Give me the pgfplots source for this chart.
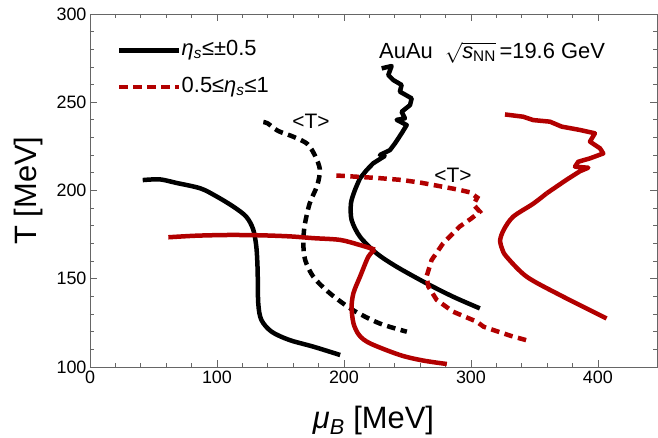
\documentclass[border=0pt]{standalone}
\usepackage{pgfplots}
\pgfplotsset{compat=1.18}
\usepackage{fontspec}
\setmainfont{Liberation Sans}
\definecolor{dred}{RGB}{178,0,0}
\begin{document}
\begin{tikzpicture}
\begin{axis}[
  name=ax,
  scale only axis, width=567bp, height=353bp,
  xmin=0, xmax=446.5, ymin=100, ymax=300,
  xtick={0,100,200,300,400}, ytick={100,150,200,250,300},
  minor x tick num=4, minor y tick num=4,
  tick align=inside,
  major tick length=7bp, minor tick length=4bp,
  axis line style={black!60, line width=0.8bp},
  every tick/.style={black!60, line width=0.8bp},
  ticklabel style={font=\fontsize{18}{18}\selectfont, text=black},
  /pgf/number format/assume math mode=true,
  xlabel={{\itshape μ\textsubscript{B}} [MeV]},
  ylabel={T [MeV]},
  every axis x label/.style={at={(rel axis cs:0.5,0)}, anchor=base, yshift=-61bp, font=\fontsize{31}{31}\selectfont},
  every axis y label/.style={at={([xshift=-53bp]rel axis cs:0,0.5)}, rotate=90, anchor=base, font=\fontsize{31}{31}\selectfont},
  legend style={draw=none, fill=none, at={(axis cs:21.3,284.5)}, anchor=north west,
    font=\fontsize{22}{22}\selectfont, row sep=18.5bp, inner sep=0pt,
    nodes={inner sep=0pt, text height=14bp, text depth=4bp}},
  legend cell align=left,
  legend image code/.code={\draw[#1] (0bp,0bp) -- (60bp,0bp);},
  solidline/.style={line width=4.5bp, line join=round},
  dashline/.style={line width=4.5bp, dash pattern=on 8.5bp off 5.5bp},
]
% black solid, left
\addplot[black, solidline, smooth, tension=0.5, forget plot] coordinates {
(41.5,205.9)(55,206.3)(68,204.3)(87,201.2)(100,196.5)(113,190.8)(123,185.2)(128.5,178)(131,168)(132,155)(132.5,136)(135,126.6)(143,120)(157,115.3)(176,111.5)(197,106.8)};
% black dashed <T>
\addplot[black, dashline, smooth, tension=0.5, forget plot] coordinates {
(136.5,238.8)(140,238)(148,233.8)(160,230.5)(171,226.5)(177,220)(181,212)(179,203)(173,192.7)(169,180)(168,170)(169.5,160.5)(176,151)(189,141.7)(207,132.3)(228,124.7)(249.5,120)};
% black solid, right
\addplot[black, solidline, forget plot] coordinates {
(229.7,269.2)(237.5,270.5)(234.9,265.4)(238.8,262.6)(245.4,259.8)(244,256)(253.3,252.2)(252,248.4)(245.4,244.6)(248,240.9)(241.5,240)(249.4,237.1)(245.4,232.4)(240.2,226.7)(236.2,222.9)(228.3,220.1)(232,219.5)(223,215.4)(217.9,211.6)(212.6,206.9)};
\addplot[black, solidline, smooth, tension=0.5, forget plot] coordinates {
(212.6,206.9)(208.5,200)(205.5,192.7)(206,183.3)(212.6,173.8)(225.7,164.4)(241.5,156.8)(265,147.4)(286,139.8)(307,133.2)};
% red solid, left
\addplot[dred, solidline, smooth, tension=0.5, forget plot] coordinates {
(61.7,173.5)(84,174.4)(110,174.8)(135,174.6)(157.5,174)(176,173)(197,172)(212.6,169.1)(224.4,166.5)};
\addplot[dred, solidline, smooth, tension=0.5, forget plot] coordinates {
(224.4,166.5)(219.2,162.5)(212.6,151.1)(207.5,142)(206,134)(207.5,124.7)(212,118)(220.5,113.4)(244,106.8)(262,103.7)(281,101.7)};
% red dashed <T>
\addplot[dred, dashline, forget plot] coordinates {
(194,208.5)(210,207.8)(228,207)(245,206)(260,204.5)(275,202.5)(290,200.5)(299,199)(305,196)(302,192)(307,188)(300,184)(291,179.5)(278,170)(269,160.6)(265,151.2)(266.5,145.5)(273,138)(286,131.3)(304.5,125.7)(310,122.8)(330.7,117.8)(345,114.9)};
% red solid, right
\addplot[dred, solidline, forget plot] coordinates {
(326.8,243.1)(341.2,241.8)(349,239.9)(362.2,239)(371.4,236.2)(385.8,234.3)(397.6,232.4)(393.7,227.7)(401.6,223.9)(404.2,221)(393.7,218.2)(384.5,216.3)(381.9,213.5)(392.4,212.9)(385.8,210.9)(375.3,206.1)(359.6,198.4)};
\addplot[dred, solidline, smooth, tension=0.5, forget plot] coordinates {
(359.6,198.4)(349,192.5)(333.3,185.2)(326,178)(323,172)(324.5,167)(328,162.5)(343.8,151.2)(370,140.8)(406.8,127.5)};
\addlegendimage{black, line width=4.5bp}
\addlegendentry{{\itshape η\textsubscript{s}}≤±0.5}
\addlegendimage{dred, dashline}
\addlegendentry{0.5≤{\itshape η\textsubscript{s}}≤1}
\node[font=\fontsize{21}{21}\selectfont] at (axis cs:174,239) {<T>};
\node[font=\fontsize{21}{21}\selectfont] at (axis cs:285.8,208.8) {<T>};
\node[font=\fontsize{22}{22}\selectfont, anchor=base west] at (axis cs:225,275) {AuAu\ \ $\sqrt{\mbox{\itshape s\textsubscript{\upshape NN}}}$\,=19.6 GeV};
\end{axis}
\pgfresetboundingbox
\path ([xshift=-90bp,yshift=-71bp]ax.south west) rectangle ([xshift=1bp,yshift=14bp]ax.north east);
\end{tikzpicture}
\end{document}
